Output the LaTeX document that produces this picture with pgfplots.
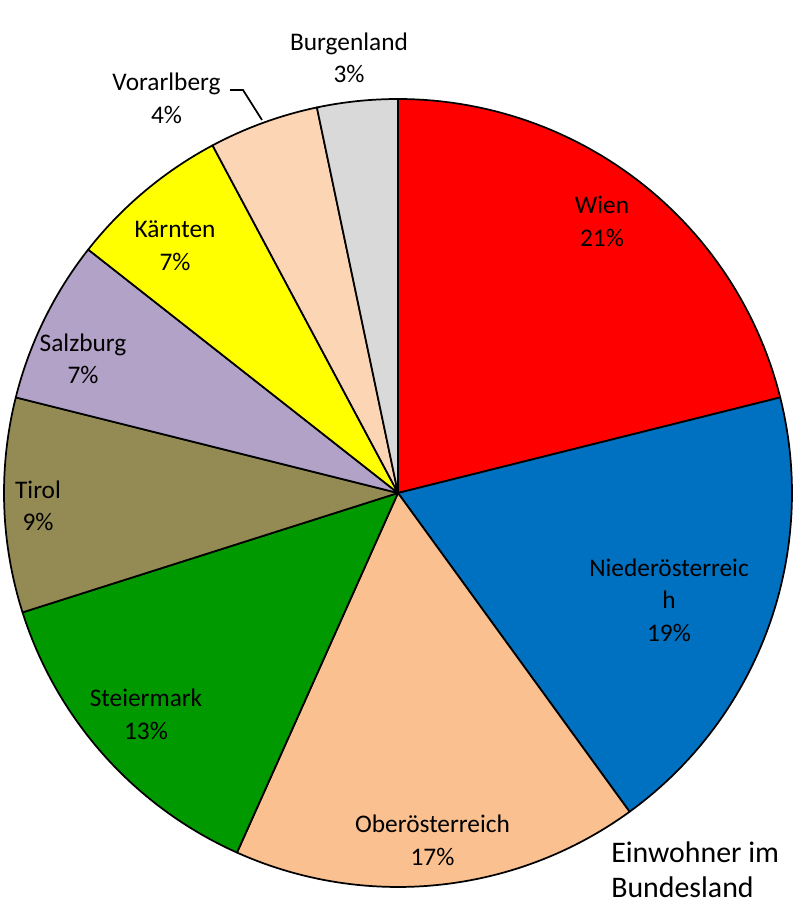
\documentclass[border=0pt]{standalone}
\usepackage{pgfplots}
\pgfplotsset{compat=1.18}
\usepackage{fontspec}
\setmainfont{Carlito}
\definecolor{cWien}{HTML}{FF0000}
\definecolor{cNOE}{HTML}{0070C0}
\definecolor{cOOE}{HTML}{FAC090}
\definecolor{cStmk}{HTML}{009900}
\definecolor{cTirol}{HTML}{948A54}
\definecolor{cSbg}{HTML}{B3A2C7}
\definecolor{cKtn}{HTML}{FFFF00}
\definecolor{cVbg}{HTML}{FCD5B5}
\definecolor{cBgld}{HTML}{D9D9D9}
\def\cum{0}
% value in percent of population, drawn clockwise from the top
\newcommand\slice[2]{%
  \pgfmathsetmacro\aStart{90-3.6*\cum}%
  \pgfmathsetmacro\cumNew{\cum+#1}%
  \global\let\cum\cumNew
  \pgfmathsetmacro\aEnd{90-3.6*\cum}%
  \edef\doit{\noexpand\addplot[fill=#2, draw=black, line width=1.3pt, line join=round, domain=\aEnd:\aStart, samples=60, variable=\noexpand\t] ({398+394*cos(\noexpand\t)},{411+394*sin(\noexpand\t)}) -- (axis cs:398,411) -- cycle;}%
  \doit}
\begin{document}
\begin{tikzpicture}
\begin{axis}[
  width=594.75pt, height=678pt, scale only axis,
  xmin=0, xmax=793, ymin=0, ymax=904,
  hide axis, clip=false,
]
\path (rel axis cs:0,0) rectangle (rel axis cs:1,1);
\slice{21.1}{cWien}
\slice{18.9}{cNOE}
\slice{16.7}{cOOE}
\slice{13.4}{cStmk}
\slice{8.8}{cTirol}
\slice{6.7}{cSbg}
\slice{6.6}{cKtn}
\slice{4.5}{cVbg}
\slice{3.3}{cBgld}
\draw[line width=1.3pt] (axis cs:230,814) -- (axis cs:243,814) -- (axis cs:262,784);
\tikzset{lab/.style={font=\fontsize{19}{24.4}\selectfont, align=center, inner sep=0pt}}
\node[lab] at (axis cs:602,682.5) {Wien\\21\%};
\node[lab] at (axis cs:669,304) {Niederösterreic\\h\\19\%};
\node[lab] at (axis cs:432.5,63.5) {Oberösterreich\\17\%};
\node[lab] at (axis cs:146,189.5) {Steiermark\\13\%};
\node[lab] at (axis cs:38,398) {Tirol\\9\%};
\node[lab] at (axis cs:83,545) {Salzburg\\7\%};
\node[lab] at (axis cs:175,658.5) {Kärnten\\7\%};
\node[lab] at (axis cs:166.5,805.5) {Vorarlberg\\4\%};
\node[lab] at (axis cs:349,846) {Burgenland\\3\%};
\node[font=\fontsize{22.4}{26.3}\selectfont, align=left, inner sep=0pt, anchor=west] at (axis cs:611,34) {Einwohner im\\Bundesland};
\end{axis}
\end{tikzpicture}
\end{document}
